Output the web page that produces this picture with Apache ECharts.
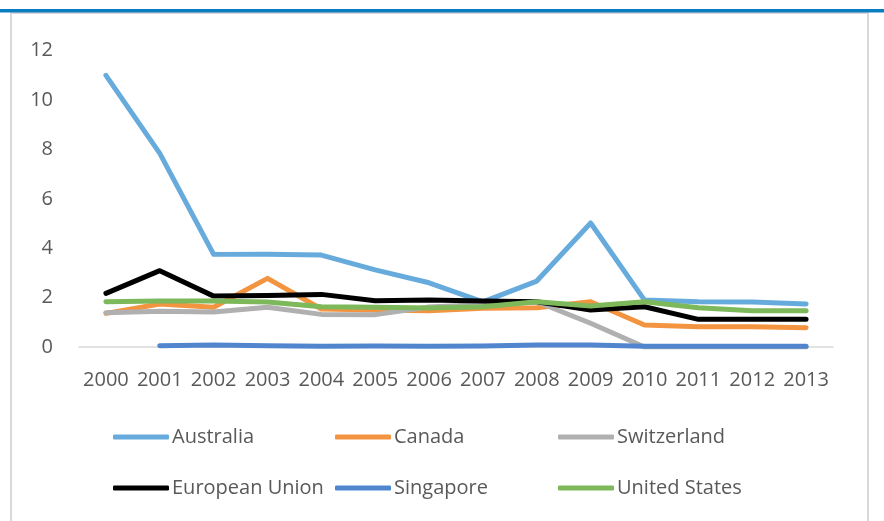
<!DOCTYPE html>
<html><head><meta charset="utf-8">
<script src="https://cdn.jsdelivr.net/npm/echarts@6/dist/echarts.min.js"></script>
<style>html,body{margin:0;padding:0;background:#fff}#c{width:884px;height:521px}</style>
</head><body><div id="c"></div>
<script>
const years = ['2000','2001','2002','2003','2004','2005','2006','2007','2008','2009','2010','2011','2012','2013'];
const australia   = [11.0, 7.84, 3.75, 3.76, 3.72, 3.12, 2.6, 1.83, 2.67, 5.02, 1.9, 1.83, 1.82, 1.74];
const canada      = [1.36, 1.74, 1.61, 2.78, 1.54, 1.5, 1.47, 1.57, 1.59, 1.83, 0.89, 0.82, 0.82, 0.78];
const switzerland = [1.39, 1.45, 1.42, 1.61, 1.32, 1.31, 1.62, 1.72, 1.83, 0.96, 0, 0, 0, 0];
const eu          = [2.17, 3.09, 2.06, 2.08, 2.13, 1.87, 1.9, 1.86, 1.83, 1.5, 1.63, 1.12, 1.12, 1.12];
const singapore   = [null, 0.05, 0.08, 0.05, 0.03, 0.04, 0.03, 0.04, 0.08, 0.08, 0.03, 0.03, 0.03, 0.03];
const us          = [1.83, 1.86, 1.86, 1.82, 1.63, 1.61, 1.58, 1.63, 1.83, 1.66, 1.83, 1.59, 1.47, 1.47];
const yTicks = [0, 2, 4, 6, 8, 10, 12];

const names = ['Australia','Canada','Switzerland','European Union','Singapore','United States'];
const datas = [australia, canada, switzerland, eu, singapore, us];
const colors = ['#67abdd','#f39440','#b0b0b0','#000000','#5186cf','#7db85a'];
const FONT = 'Open Sans';

const chart = echarts.init(document.getElementById('c'));
const legendPos = [[113,427],[335,427],[558,427],[113,478],[335,478],[558,478]];
chart.setOption({
  backgroundColor: '#ffffff',
  animation: false,
  color: colors,
  grid: { left: 79, right: 51, top: 50.6, bottom: 174, containLabel: false },
  xAxis: {
    type: 'category', data: years, boundaryGap: true,
    axisLine: { show: true, lineStyle: { color: '#d9d9d9', width: 1.5 } },
    axisTick: { show: false },
    axisLabel: { color: '#595959', fontFamily: FONT, fontSize: 20, margin: 23, interval: 0 },
    splitLine: { show: false }
  },
  yAxis: {
    type: 'value', min: 0, max: yTicks[yTicks.length-1], interval: 2,
    axisLine: { show: false }, axisTick: { show: false },
    splitLine: { show: false },
    axisLabel: { color: '#595959', fontFamily: FONT, fontSize: 20, margin: 26 }
  },
  legend: names.map((n, i) => ({
    data: [n], left: legendPos[i][0], top: legendPos[i][1],
    icon: 'roundRect', itemWidth: 56, itemHeight: 5, padding: 0,
    textStyle: { color: '#595959', fontFamily: FONT, fontSize: 20, padding: [0,0,0,-2] }
  })),
  series: names.map((n, i) => ({
    name: n, type: 'line', data: datas[i], symbol: 'none', smooth: false,
    connectNulls: false,
    lineStyle: { width: 5, color: colors[i], cap: 'round', join: 'round' },
    itemStyle: { color: colors[i] }
  })),
  graphic: [
    { type: 'rect', shape: { x: 0, y: 9, width: 884, height: 3.5 }, style: { fill: '#0a7dc0' }, z: 100 },
    { type: 'rect', shape: { x: 11, y: 13, width: 857, height: 530 }, style: { fill: 'none', stroke: '#d9d9d9', lineWidth: 2 }, z: 99 }
  ]
});
</script></body></html>
